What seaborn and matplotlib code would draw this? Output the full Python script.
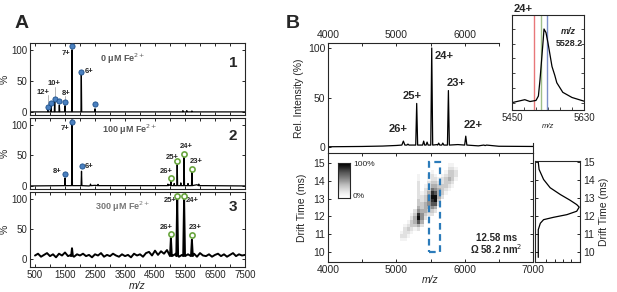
import numpy as np
import matplotlib
matplotlib.use("Agg")
import matplotlib.pyplot as plt
import seaborn as sns
from matplotlib.patches import Rectangle

# ---------------- panel A data (m/z, % intensity) ----------------
a1_peak_mz = [933, 1033, 1156, 1311, 1500, 1733, 2044, 2500, 5430, 5560, 5730]
a1_peak_h = [5, 14, 19, 11, 10, 100, 60, 5, 2, 2, 1.5]
a1_blue_mz = [933, 1033, 1156, 1311, 1500, 1733, 2044, 2500]
a1_blue_h = [8, 15, 20.5, 17, 16.5, 106, 65, 13]

a2_base_mz = [333, 2300, 2500, 4800, 5000, 5900, 6200, 7500]
a2_base_h = [0, 0, 1, 0.5, 2, 2, 0.5, 0]
a2_peak_mz = [1500, 1733, 2050, 2350, 2600, 4930, 5030, 5140, 5240, 5360, 5470, 5600, 5730, 5960]
a2_peak_h = [13, 108, 24, 3, 2.5, 3, 10, 4, 35, 5, 47, 4, 22, 3]
a2_blue_mz = [1500, 1733, 2050]
a2_blue_h = [20, 105, 33]
a2_green_mz = [5030, 5240, 5470, 5730]
a2_green_h = [13, 40, 53, 27]

a3_noise_mz = list(range(500, 7501, 100))
a3_noise = [6, 9, 4, 7, 10, 5, 8, 3, 9, 6,
            11, 5, 7, 4, 8, 6, 9, 5, 7, 3,
            8, 6, 10, 4, 7, 5, 9, 6, 4, 8,
            5, 7, 3, 9, 6, 8, 4, 10, 12, 6,
            14, 7, 13, 9, 15, 8, 6, 9, 4, 7,
            5, 8, 6, 9, 4, 10, 6, 5, 8, 4,
            7, 9, 5, 8, 4, 7, 10, 5, 8, 6, 7]
a3_peak_mz = [1733, 5030, 5240, 5470, 5730]
a3_peak_h = [18, 35, 100, 100, 32]
a3_green_mz = [5030, 5240, 5470, 5730]
a3_green_h = [42, 105, 105, 40]

# ---------------- panel B data ----------------
b_base_mz = [4000, 4500, 4800, 5000, 5200, 5600, 5900, 6200, 6500, 7000]
b_base_h = [0.3, 0.6, 1.0, 1.6, 2.0, 2.5, 2.5, 1.2, 0.8, 0.6]
b_peak_mz = [5103, 5170, 5298, 5400, 5450, 5518, 5620, 5680, 5762, 6016, 6300]
b_peak_h = [6, 3, 44, 6, 5, 100, 4, 4, 57, 11, 1.5]
b_peak_w = [22, 15, 14, 15, 15, 14, 15, 15, 14, 16, 20]
b_labels = ["26+", "25+", "24+", "23+", "22+"]
b_label_mz = [5025, 5230, 5698, 5874, 6123]
b_label_h = [18, 52, 92, 65, 22]

# inset: 24+ peak profile
ins_mz = [5450, 5482, 5495, 5510, 5516, 5520, 5524, 5528, 5530, 5535, 5540,
          5545, 5550, 5557, 5562, 5577, 5600, 5630]
ins_int = [0.0, 0.04, 0.015, 0.03, 0.09, 0.31, 0.58, 0.85, 1.0, 0.95, 0.81,
           0.65, 0.49, 0.37, 0.27, 0.14, 0.07, 0.02]
ins_marks = [5506, 5522, 5538]

# drift time (ms) map, rows = drift bins (bottom->top), cols = m/z bins
map_mz_edges = list(range(5050, 5901, 50))
map_dt_edges = [10.6 + 0.2 * i for i in range(23)]
map_rows = ["11000000000000000",
            "22100000000000000",
            "12210000000000000",
            "02321200000000000",
            "01233420000000000",
            "00134740000000000",
            "00024952000000000",
            "00013853220000000",
            "00002544332000000",
            "00000434454000000",
            "00000334577200000",
            "00000323589300000",
            "00000223599420000",
            "00000212487431000",
            "00000202365432100",
            "00000201244333210",
            "00000200233223320",
            "00000100122123431",
            "00000100121012332",
            "00000000010001332",
            "00000000000000221",
            "00000000000000110"]

# arrival time distribution for the selected 24+ ion
atd_ms = [15.0, 14.6, 14.04, 13.58, 13.2, 12.88, 12.64, 12.5, 12.27, 12.08,
          11.93, 11.8, 11.6, 11.24, 10.1, 9.7]
atd_int = [0.0, 0.02, 0.13, 0.29, 0.54, 0.78, 0.94, 1.0, 0.94, 0.70,
           0.37, 0.13, 0.05, 0.0, 0.0, 0.0]


def build_trace(base_x, base_y, peak_x, peak_y, widths, foot):
    # baseline points outside the peak windows, plus a triangle for each peak
    pts = [(x, y) for x, y in zip(base_x, base_y)
           if all(abs(x - c) > w for c, w in zip(peak_x, widths))]
    for c, h, w in zip(peak_x, peak_y, widths):
        pts += [(c - w, foot), (c, h), (c + w, foot)]
    pts.sort()
    return [p[0] for p in pts], [p[1] for p in pts]


sns.set_style("ticks")
plt.rcParams["font.family"] = ["Liberation Sans", "DejaVu Sans"]
plt.rcParams["xtick.direction"] = "in"
plt.rcParams["ytick.direction"] = "in"
plt.rcParams["axes.linewidth"] = 0.8

W, H = 617, 292
fig = plt.figure(figsize=(6.17, 2.92), dpi=100)


def rect(x0, y0, x1, y1):
    return [x0 / W, 1 - y1 / H, (x1 - x0) / W, (y1 - y0) / H]


blue_face, blue_edge = "#4a80c0", "#1d4f8a"
green = "#6aa640"

# ---------------- panel A ----------------
axA1 = fig.add_axes(rect(30, 43, 245, 115))
axA2 = fig.add_axes(rect(30, 118, 245, 189))
axA3 = fig.add_axes(rect(30, 192, 245, 267))

for ax, lo in [(axA1, -5), (axA2, -5), (axA3, -13)]:
    ax.set_xlim(333, 7500)
    ax.set_ylim(lo, 111)
    ax.set_xticks(range(500, 7501, 1000))
    ax.set_xticks(range(1000, 7001, 1000), minor=True)
    ax.set_yticks([0, 50, 100])
    ax.tick_params(which="both", top=True, right=True, length=2.5, width=0.7,
                   labelsize=7, pad=2)
    ax.set_ylabel("%", fontsize=7.5, labelpad=1)
    if ax is not axA3:
        ax.tick_params(labelbottom=False)

x, y = build_trace([333, 7500], [0, 0], a1_peak_mz, a1_peak_h, [12] * len(a1_peak_mz), 0)
sns.lineplot(x=x, y=y, ax=axA1, color="black", lw=0.9, sort=False, estimator=None)
# leader lines for the small labelled peaks
for mz, y0, y1 in [(933, 8, 27), (1156, 20, 40), (1500, 16, 25)]:
    axA1.plot([mz, mz], [y0, y1], color="#aaaaaa", lw=0.6)
sns.scatterplot(x=a1_blue_mz, y=a1_blue_h, ax=axA1, color=blue_face, edgecolor=blue_edge,
                s=14, linewidth=0.6, zorder=5, clip_on=False)

x, y = build_trace(a2_base_mz, a2_base_h, a2_peak_mz, a2_peak_h, [14] * len(a2_peak_mz), 0.5)
sns.lineplot(x=x, y=y, ax=axA2, color="black", lw=0.9, sort=False, estimator=None)
sns.scatterplot(x=a2_blue_mz, y=a2_blue_h, ax=axA2, color=blue_face, edgecolor=blue_edge,
                s=14, linewidth=0.6, zorder=5, clip_on=False)
sns.scatterplot(x=a2_green_mz, y=a2_green_h, ax=axA2, facecolor="white", edgecolor=green,
                s=14, linewidth=1.2, zorder=5)

x, y = build_trace(a3_noise_mz, a3_noise, a3_peak_mz, a3_peak_h, [30] * len(a3_peak_mz), 5)
sns.lineplot(x=x, y=y, ax=axA3, color="black", lw=1.4, sort=False, estimator=None)
sns.scatterplot(x=a3_green_mz, y=a3_green_h, ax=axA3, facecolor="white", edgecolor=green,
                s=14, linewidth=1.2, zorder=5, clip_on=False)
axA3.set_xlabel("m/z", fontsize=7.5, style="italic", labelpad=1)

lab = dict(fontsize=5.5, fontweight="bold", ha="center", va="center")
for t, xx, yy in [("7+", 1532, 94), ("6+", 2298, 65), ("12+", 766, 31),
                  ("10+", 1132, 45), ("8+", 1532, 29)]:
    axA1.text(xx, yy, t, **lab)
for t, xx, yy in [("7+", 1499, 94), ("8+", 1232, 23), ("6+", 2298, 32), ("26+", 4862, 23),
                  ("25+", 5062, 47), ("24+", 5528, 65), ("23+", 5861, 40)]:
    axA2.text(xx, yy, t, **lab)
for t, xx, yy in [("25+", 4995, 97), ("24+", 5728, 97), ("26+", 4862, 52), ("23+", 5828, 53)]:
    axA3.text(xx, yy, t, **lab)

cond = dict(fontsize=6.5, fontweight="bold", ha="center", va="center")
axA1.text(3430, 85, "0 μM Fe$^{2+}$", color="#555555", **cond)
axA2.text(3663, 92, "100 μM Fe$^{2+}$", color="#555555", **cond)
axA3.text(3430, 87, "300 μM Fe$^{2+}$", color="#777777", **cond)
for ax, t, yy in [(axA1, "1", 79), (axA2, "2", 82), (axA3, "3", 87)]:
    ax.text(7093, yy, t, fontsize=11, fontweight="bold", ha="center", va="center")

fig.text(22 / W, 1 - 23 / H, "A", fontsize=14, fontweight="bold", ha="center", va="center")
fig.text(293 / W, 1 - 23 / H, "B", fontsize=14, fontweight="bold", ha="center", va="center")

# ---------------- panel B: mass spectrum ----------------
axS = fig.add_axes(rect(328, 43, 533, 153))
x, y = build_trace(b_base_mz, b_base_h, b_peak_mz, b_peak_h, b_peak_w, 2)
sns.lineplot(x=x, y=y, ax=axS, color="black", lw=0.9, sort=False, estimator=None)
axS.set_xlim(4000, 7000)
axS.set_ylim(-6, 105)
axS.spines["bottom"].set_visible(False)
axS.spines["top"].set_bounds(4000, 6500)
axS.spines["right"].set_bounds(-6, 4)
axS.xaxis.tick_top()
axS.set_xticks([4000, 5000, 6000])
axS.set_xticks([4500, 5500, 6500], minor=True)
axS.set_yticks([0, 50, 100])
axS.tick_params(which="both", length=2.5, width=0.7, labelsize=7.5, pad=2)
axS.tick_params(axis="y", right=False)
axS.set_ylabel("Rel. Intensity (%)", fontsize=7.5, labelpad=3)
for t, xx, yy in zip(b_labels, b_label_mz, b_label_h):
    axS.text(xx, yy, t, fontsize=8, fontweight="bold", ha="center", va="center")

# ---------------- panel B: drift time map ----------------
axM = fig.add_axes(rect(328, 153, 533, 262))
vals = np.array([[int(c) for c in r] for r in map_rows], dtype=float)
vals = np.ma.masked_where(vals == 0, vals)
axM.pcolormesh(map_mz_edges, map_dt_edges, vals, cmap="Greys", vmin=0, vmax=9.5,
               shading="flat")
axM.add_patch(Rectangle((5475, 10.0), 160, 5.07, fill=False, edgecolor="#2b7bba",
                        lw=1.6, linestyle=(0, (3, 2))))
axM.set_xlim(4000, 7000)
axM.set_ylim(9.44, 15.56)
axM.set_xticks([4000, 5000, 6000, 7000])
axM.set_xticks([4500, 5500, 6500], minor=True)
axM.set_yticks([10, 11, 12, 13, 14, 15])
axM.tick_params(which="both", top=True, right=True, length=2.5, width=0.7,
                labelsize=7.5, pad=2)
axM.set_xlabel("m/z", fontsize=7.5, style="italic", labelpad=0)
axM.set_ylabel("Drift Time (ms)", fontsize=7.5, labelpad=5)
axM.text(6464, 10.79, "12.58 ms", fontsize=7, fontweight="bold", ha="center", va="center")
axM.text(6464, 10.17, "Ω 58.2 nm$^2$", fontsize=7, fontweight="bold", ha="center", va="center")

axC = fig.add_axes(rect(338, 163, 350, 198))
axC.imshow(np.linspace(1, 0, 50).reshape(-1, 1), cmap="Greys", aspect="auto", vmin=0, vmax=1)
axC.set_xticks([])
axC.set_yticks([])
fig.text(353 / W, 1 - 165 / H, "100%", fontsize=6, va="center")
fig.text(353 / W, 1 - 197 / H, "0%", fontsize=6, va="center")

# ---------------- panel B: arrival time distribution ----------------
axD = fig.add_axes(rect(535, 161, 580, 262))
sns.lineplot(x=atd_int, y=atd_ms, ax=axD, color="black", lw=0.9, sort=False, estimator=None)
axD.set_xlim(-0.08, 1.02)
axD.set_ylim(9.44, 15.07)
axD.set_yticks([10, 11, 12, 13, 14, 15])
axD.set_xticks([0.2, 0.4, 0.6, 0.8])
axD.tick_params(which="both", left=True, right=True, labelleft=False, labelright=True,
                labelbottom=False, length=2.5, width=0.7, labelsize=7.5, pad=2)
axD.yaxis.set_label_position("right")
axD.set_ylabel("Drift Time (ms)", fontsize=7.5, labelpad=3)

# ---------------- panel B: inset 24+ ----------------
axI = fig.add_axes(rect(512, 15, 584, 110))
for mz, c in zip(ins_marks, ["#e8777a", "#9fbf8a", "#7b8fc9"]):
    axI.axvline(mz, color=c, lw=1.0)
sns.lineplot(x=ins_mz, y=ins_int, ax=axI, color="black", lw=0.9, sort=False, estimator=None)
axI.set_xlim(5450, 5630)
axI.set_ylim(-0.1, 1.19)
axI.set_xticks([5450, 5630])
axI.set_xticks([5480, 5510, 5540, 5570, 5600], minor=True)
axI.set_yticks([0, 0.2, 0.4, 0.6, 0.8, 1.0])
axI.tick_params(which="both", right=True, labelleft=False, length=2, width=0.6,
                labelsize=7, pad=2)
axI.set_xlabel("m/z", fontsize=5.5, style="italic", labelpad=0)
axI.text(5590, 0.96, "m/z", fontsize=6.5, fontweight="bold", style="italic", ha="center",
         va="center")
axI.text(5593, 0.80, "5528.2", fontsize=6.5, fontweight="bold", ha="center", va="center")
axI.text(5477, 1.27, "24+", fontsize=8, fontweight="bold", ha="center", va="center",
         clip_on=False)

fig.savefig("out.png", dpi=100)
